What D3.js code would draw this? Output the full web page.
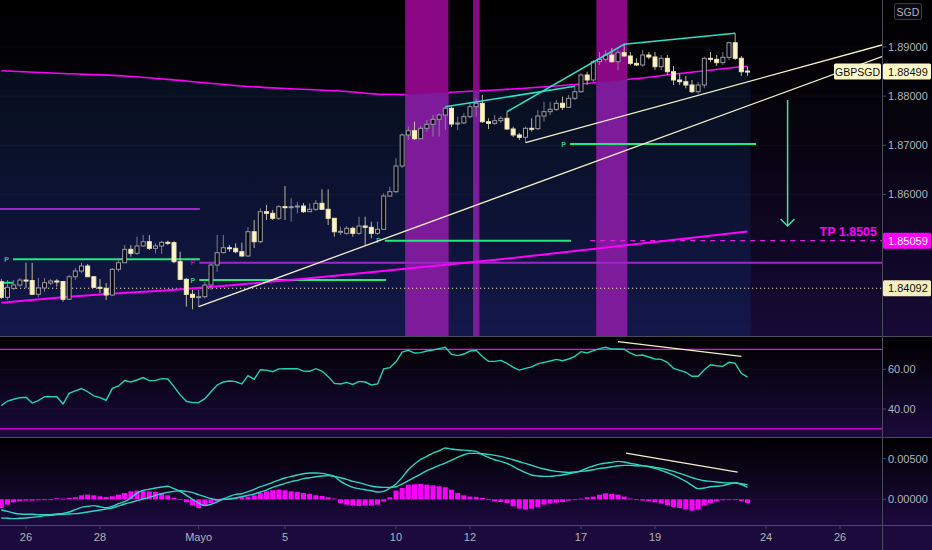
<!DOCTYPE html>
<html><head><meta charset="utf-8">
<script src="https://cdn.jsdelivr.net/npm/d3@7"></script>
<style>
html,body{margin:0;padding:0;background:#000;}
svg{display:block;}
text{font-family:"Liberation Sans",Arial,sans-serif;}
</style></head><body>
<svg id="c" width="932" height="550"></svg>
<script>
// ---------------- DATA ----------------
const opens=[1.84224,1.83907,1.84090,1.84157,1.84258,1.84248,1.83968,1.84097,1.84198,1.84239,
1.84228,1.83867,1.84326,1.84442,1.84544,1.84326,1.84111,1.84090,1.83954,1.84477,
1.84611,1.84884,1.84802,1.84951,1.85039,1.84904,1.84951,1.85026,1.85018,1.84632,
1.84273,1.83968,1.83907,1.83920,1.84157,1.84564,1.84815,1.84916,1.84904,1.84835,
1.84748,1.85242,1.85039,1.85649,1.85616,1.85515,1.85751,1.85739,1.85751,1.85765,
1.85649,1.85698,1.85820,1.85698,1.85515,1.85242,1.85209,1.85311,1.85209,1.85358,
1.85332,1.85209,1.85291,1.85968,1.86056,1.86579,1.87210,1.87297,1.87134,1.87346,
1.87427,1.87529,1.87616,1.87753,1.87433,1.87454,1.87582,1.87785,1.87855,1.87480,
1.87447,1.87500,1.87549,1.87332,1.87210,1.87163,1.87346,1.87338,1.87596,1.87684,
1.87732,1.87855,1.87773,1.87956,1.88091,1.88430,1.88329,1.88701,1.88750,1.88837,
1.88701,1.88884,1.88817,1.88668,1.88634,1.88837,1.88797,1.88599,1.88770,1.88497,
1.88329,1.88294,1.88227,1.88091,1.88227,1.88770,1.88750,1.88681,1.88790,1.89087,
1.88770,1.88510];
const highs=[1.84279,1.84258,1.84258,1.84299,1.84611,1.84605,1.84299,1.84299,1.84279,1.84279,
1.84239,1.84361,1.84503,1.84605,1.84584,1.84340,1.84279,1.84198,1.84503,1.84707,
1.84971,1.84971,1.85140,1.85175,1.85175,1.85006,1.85053,1.85059,1.85053,1.84835,
1.84299,1.84056,1.84056,1.84224,1.84598,1.85175,1.85175,1.84971,1.85006,1.85018,
1.85332,1.85480,1.85718,1.85785,1.85684,1.85785,1.86172,1.85922,1.85852,1.85826,
1.85820,1.85887,1.86105,1.86105,1.85521,1.85344,1.85358,1.85344,1.85547,1.85547,
1.85446,1.85446,1.86023,1.86158,1.86735,1.87244,1.87378,1.87480,1.87393,1.87515,
1.87616,1.87651,1.87785,1.87785,1.87582,1.87651,1.87855,1.87956,1.88023,1.87549,
1.87616,1.87596,1.87684,1.87378,1.87250,1.87378,1.87549,1.87718,1.87887,1.87887,
1.87922,1.87989,1.88023,1.88200,1.88465,1.88497,1.88735,1.88898,1.88939,1.88980,
1.88939,1.89055,1.88898,1.88770,1.88939,1.88898,1.88898,1.88837,1.88837,1.88613,
1.88465,1.88410,1.88329,1.88288,1.88803,1.88898,1.88837,1.88898,1.89101,1.89279,
1.88817,1.88599];
const lows=[1.83873,1.83852,1.84056,1.84117,1.84097,1.83954,1.83914,1.84021,1.84157,1.84123,
1.83818,1.83852,1.84258,1.84402,1.84320,1.84097,1.83995,1.83852,1.83934,1.84428,
1.84605,1.84733,1.84768,1.84937,1.84870,1.84802,1.84788,1.84971,1.84598,1.84258,
1.83716,1.83663,1.83716,1.83887,1.84056,1.84428,1.84802,1.84835,1.84802,1.84733,
1.84733,1.84910,1.85006,1.85480,1.85480,1.85480,1.85480,1.85446,1.85616,1.85623,
1.85643,1.85663,1.85684,1.85378,1.85140,1.85175,1.85175,1.85140,1.85175,1.84971,
1.85108,1.85175,1.85277,1.85948,1.86029,1.86538,1.87108,1.87108,1.87128,1.87277,
1.87175,1.87175,1.87311,1.87372,1.87311,1.87433,1.87549,1.87582,1.87454,1.87332,
1.87413,1.87454,1.87311,1.87169,1.87108,1.87053,1.87277,1.87311,1.87480,1.87616,
1.87698,1.87718,1.87759,1.87922,1.88064,1.88227,1.88288,1.88634,1.88695,1.88681,
1.88532,1.88797,1.88634,1.88613,1.88599,1.88750,1.88532,1.88532,1.88430,1.88227,
1.88227,1.88160,1.88064,1.88044,1.88160,1.88695,1.88613,1.88634,1.88735,1.88735,
1.88410,1.88410];
const closes=[1.83907,1.84111,1.84157,1.84258,1.84248,1.83968,1.84097,1.84204,1.84239,1.84228,
1.83867,1.84326,1.84442,1.84544,1.84326,1.84111,1.84090,1.83954,1.84477,1.84611,
1.84884,1.84802,1.84951,1.85039,1.84904,1.84951,1.85026,1.85018,1.84632,1.84273,
1.83968,1.83907,1.83920,1.84157,1.84564,1.84815,1.84916,1.84904,1.84835,1.84748,
1.85242,1.85039,1.85649,1.85616,1.85515,1.85751,1.85739,1.85751,1.85765,1.85649,
1.85698,1.85820,1.85698,1.85515,1.85242,1.85250,1.85311,1.85209,1.85358,1.85332,
1.85209,1.85291,1.85968,1.86056,1.86579,1.87210,1.87297,1.87134,1.87346,1.87427,
1.87529,1.87616,1.87753,1.87433,1.87454,1.87582,1.87785,1.87855,1.87480,1.87447,
1.87500,1.87549,1.87332,1.87210,1.87163,1.87346,1.87338,1.87596,1.87684,1.87732,
1.87855,1.87773,1.87956,1.88091,1.88430,1.88329,1.88701,1.88750,1.88837,1.88701,
1.88884,1.88817,1.88668,1.88634,1.88837,1.88797,1.88599,1.88770,1.88497,1.88329,
1.88294,1.88227,1.88091,1.88227,1.88770,1.88750,1.88681,1.88790,1.89087,1.88770,
1.88497,1.88499];

const rsi=[41.7,44.0,44.9,45.7,45.9,43.0,44.2,46.2,46.2,46.2,
42.5,47.9,49.1,50.3,48.7,46.6,45.7,44.4,50.4,51.6,
54.3,53.6,54.6,55.8,54.3,54.4,55.3,55.1,51.3,47.1,
43.9,43.2,43.2,45.2,48.7,52.1,53.6,54.1,53.8,52.6,
56.8,55.0,59.8,59.6,58.8,60.2,60.3,60.3,60.3,59.1,
59.0,60.3,59.1,56.3,52.9,52.6,53.4,52.4,53.9,53.6,
52.1,52.6,60.2,60.8,63.8,68.7,69.6,68.2,68.4,69.2,
69.7,70.4,71.1,67.5,66.9,67.7,69.2,69.6,66.4,64.0,
64.0,64.5,63.0,61.0,59.6,60.5,61.2,62.7,63.5,64.2,
65.0,64.3,65.2,66.5,68.9,68.2,69.4,70.4,71.1,70.2,
70.2,70.1,68.2,66.9,67.2,66.2,65.2,65.0,63.5,60.5,
59.5,58.5,56.5,56.5,59.8,62.3,61.8,61.5,63.5,63.0,
58.0,56.1];
const rsiLevels=[70,30];

const macd=[-0.00132,-0.00148,-0.00168,-0.00181,-0.00185,-0.00185,-0.00189,-0.00189,-0.00189,-0.00181,
-0.00173,-0.00156,-0.00127,-0.00099,-0.00087,-0.00078,-0.00091,-0.00103,-0.00087,-0.00054,
-0.00029,0.00016,0.00077,0.00110,0.00123,0.00139,0.00151,0.00160,0.00131,0.00098,
0.00049,0.0,-0.00046,-0.00078,-0.00062,-0.00033,0.00004,0.00036,0.00061,0.00069,
0.00094,0.00123,0.00155,0.00180,0.00209,0.00237,0.00262,0.00282,0.00299,0.00315,
0.00323,0.00323,0.00319,0.00303,0.00282,0.00221,0.00180,0.00147,0.00131,0.00118,
0.00106,0.00090,0.00098,0.00139,0.00188,0.00270,0.00364,0.00434,0.00492,0.00528,
0.00569,0.00598,0.00631,0.00619,0.00610,0.00606,0.00598,0.00590,0.00549,0.00516,
0.00487,0.00467,0.00442,0.00405,0.00364,0.00328,0.00299,0.00287,0.00282,0.00282,
0.00291,0.00299,0.00315,0.00328,0.00352,0.00385,0.00410,0.00434,0.00446,0.00455,
0.00467,0.00459,0.00442,0.00430,0.00414,0.00401,0.00381,0.00356,0.00328,0.00299,
0.00262,0.00221,0.00172,0.00131,0.00139,0.00155,0.00160,0.00168,0.00188,0.00205,
0.00180,0.00147];
const signal=[-0.00230,-0.00234,-0.00238,-0.00234,-0.00230,-0.00222,-0.00214,-0.00201,-0.00197,-0.00189,
-0.00185,-0.00181,-0.00177,-0.00168,-0.00156,-0.00144,-0.00132,-0.00119,-0.00107,-0.00082,
-0.00058,-0.00037,-0.00017,0.00004,0.00024,0.00049,0.00069,0.00086,0.00098,0.00106,
0.00098,0.00082,0.00057,0.00032,0.00008,-0.00005,0.0,0.00004,0.00016,0.00032,
0.00049,0.00065,0.00090,0.00114,0.00147,0.00172,0.00196,0.00217,0.00233,0.00254,
0.00266,0.00278,0.00287,0.00291,0.00282,0.00266,0.00246,0.00221,0.00205,0.00184,
0.00164,0.00151,0.00147,0.00147,0.00155,0.00188,0.00229,0.00270,0.00311,0.00352,
0.00385,0.00418,0.00446,0.00483,0.00516,0.00549,0.00565,0.00565,0.00561,0.00553,
0.00541,0.00528,0.00508,0.00487,0.00463,0.00442,0.00418,0.00393,0.00373,0.00356,
0.00344,0.00336,0.00332,0.00336,0.00344,0.00352,0.00364,0.00381,0.00389,0.00401,
0.00414,0.00418,0.00418,0.00414,0.00414,0.00405,0.00393,0.00381,0.00364,0.00344,
0.00319,0.00295,0.00266,0.00246,0.00229,0.00221,0.00213,0.00205,0.00201,0.00201,
0.00192,0.00180];
const hist=[-0.00107,-0.00066,-0.00037,-0.00025,-0.00016,-0.00016,-0.00012,-0.00008,0.0,0.00012,
0.00008,0.00016,0.00025,0.00049,0.00057,0.00049,0.00037,0.00029,0.00037,0.00057,
0.00078,0.00098,0.00107,0.00107,0.00098,0.00090,0.00078,0.00049,0.00016,-0.00008,
-0.00037,-0.00074,-0.00107,-0.00082,-0.00049,-0.00025,-0.00004,0.00008,0.00016,0.00025,
0.00033,0.00049,0.00078,0.00098,0.00111,0.00119,0.00111,0.00098,0.00090,0.00078,
0.00066,0.00049,0.00041,0.00025,0.00008,-0.00045,-0.00066,-0.00078,-0.00082,-0.00078,
-0.00078,-0.00066,-0.00025,0.00025,0.00107,0.00139,0.00180,0.00185,0.00189,0.00180,
0.00172,0.00160,0.00148,0.00119,0.00078,0.00049,0.00033,0.00029,0.00016,-0.00008,
-0.00025,-0.00033,-0.00045,-0.00086,-0.00115,-0.00127,-0.00115,-0.00094,-0.00066,-0.00049,
-0.00041,-0.00033,-0.00016,-0.00008,0.00008,0.00025,0.00033,0.00057,0.00074,0.00066,
0.00057,0.00033,0.00008,-0.00008,-0.00016,-0.00025,-0.00037,-0.00053,-0.00074,-0.00094,
-0.00107,-0.00123,-0.00139,-0.00127,-0.00078,-0.00045,-0.00025,-0.00012,-0.00004,-0.00008,
-0.00021,-0.00045];

// slow moving average (upper magenta curve), sampled at bar indices
const maSlowIdx=[0,10,20,30,40,48,56,62,66,72,80,90,100,110,121];
const maSlowVal=[1.88518,1.88461,1.88410,1.88308,1.88196,1.88145,1.88095,1.88038,1.88034,1.88074,1.88125,1.88207,1.88318,1.88461,1.88613];
// lower magenta average
const maLowIdx=[0,17,26,52,65,81,97,121];
const maLowVal=[1.83798,1.83975,1.84042,1.84320,1.84483,1.84681,1.84904,1.85246];

// highlighted session bands [firstBar,lastBar]
const bands=[[66,72],[77,77],[97,101]];

// pivot / level lines: [fromBar, toBar, price]
const greenLevels=[[-0.22,1.9,1.84204],[1.9,32.2,1.84681],[32.1,62.4,1.84258],[62.2,92.4,1.85059],[92.2,122.4,1.87026]];
const purpleLevels=[[-0.22,32.2,1.85704],[32.1,143,1.84611]];
const pLabelsGreen=[[1.9,1.84681],[32.1,1.84258],[62.2,1.85059],[92.2,1.87026]];
const pLabelsPurple=[[32.1,1.84611]];
const dottedLevel=1.84092;
const tpLevel=1.85059, tpFrom=95.5, tpText="TP 1.8505";
const lastPrice=1.88499, symbol="GBPSGD", currency="SGD";

// drawings: [bar, price]
const trendA=[[32,1.83716],[142.8,1.88803]];
const trendB=[[85,1.87053],[142.8,1.89041]];
const cyan1=[[72,1.87785],[93,1.88200]];
const cyan2=[[82,1.87684],[101,1.89055],[119,1.89279]];
const arrow=[[127.5,1.87922],[127.5,1.85358]];
const rsiTrend=[[100,73.9],[120,66.5]];
const macdTrend=[[101.3,0.00570],[119.4,0.00336]];

const priceTicks=[1.86,1.87,1.88,1.89];
const rsiTicks=[40,60];
const macdTicks=[0,0.005];
const dayTickIdx=[4,16,32,46,64,76,94,106,124,136];
const dayTickLabels=["26","28","Mayo","5","10","12","17","19","24","26"];

// ---------------- LAYOUT ----------------
const W=932,H=550, AX=882;
const MAIN=[0,336], RSIP=[337,437], MACDP=[438,525];
const svg=d3.select('#c');
const defs=svg.append('defs');
function vgrad(id,stops,y1,y2){
  const g=defs.append('linearGradient').attr('id',id).attr('gradientUnits','userSpaceOnUse')
   .attr('x1',0).attr('x2',0).attr('y1',y1).attr('y2',y2);
  stops.forEach(s=>g.append('stop').attr('offset',s[0]).attr('stop-color',s[1]));
}
vgrad('gMain',[[0,'#000000'],[0.35,'#05030c'],[1,'#170a36']],0,336);
vgrad('gNavy',[[0,'#050e1a'],[1,'#13174a']],60,336);
vgrad('gRsi',[[0,'#000000'],[1,'#1a0a3c']],337,437);
vgrad('gMacd',[[0,'#000000'],[1,'#1b0a3e']],438,525);
function clip(id,y0,y1){defs.append('clipPath').attr('id',id).append('rect').attr('x',0).attr('y',y0).attr('width',AX).attr('height',y1-y0);}
clip('cMain',MAIN[0],MAIN[1]); clip('cRsi',RSIP[0],RSIP[1]); clip('cMacd',MACDP[0],MACDP[1]);

const x=d3.scaleLinear().domain([0,142]).range([1.33,1.33+142*6.1667]);
const yP=d3.scaleLinear().domain([1.84,1.89]).range([292.75,47]);
const yR=d3.scaleLinear().domain([40,60]).range([409,369.3]);
const yM=d3.scaleLinear().domain([0,0.005]).range([499.3,458.7]);
const step=x(1)-x(0);

// backgrounds
svg.append('rect').attr('x',0).attr('y',0).attr('width',W).attr('height',336).attr('fill','url(#gMain)');
svg.append('rect').attr('x',0).attr('y',337).attr('width',W).attr('height',100).attr('fill','url(#gRsi)');
svg.append('rect').attr('x',0).attr('y',438).attr('width',W).attr('height',87).attr('fill','url(#gMacd)');
svg.append('rect').attr('x',0).attr('y',525).attr('width',W).attr('height',25).attr('fill','#1b0b3c');

// ---------------- MAIN PANE ----------------
const gm=svg.append('g').attr('clip-path','url(#cMain)');
const maPts=maSlowIdx.map((d,k)=>[x(d),yP(maSlowVal[k])]);
const lastX=x(closes.length-1)+step/2;
const areaPts=[[0,maPts[0][1]],...maPts,[lastX,maPts[maPts.length-1][1]]];
const areaD=d3.area().x(d=>d[0]).y0(MAIN[1]).y1(d=>d[1]).curve(d3.curveMonotoneX)(areaPts);
defs.append('clipPath').attr('id','cUnder').append('path').attr('d',areaD);
gm.append('path').attr('d',areaD).attr('fill','url(#gNavy)');
// grid
gm.selectAll('.gp').data(priceTicks).join('line').attr('x1',0).attr('x2',AX)
  .attr('y1',d=>yP(d)).attr('y2',d=>yP(d)).attr('stroke','rgba(255,255,255,0.035)');
// slow MA line
const lineM=d3.line().curve(d3.curveMonotoneX);
gm.append('path').attr('d',lineM(maPts)).attr('fill','none').attr('stroke','#ff00ff').attr('stroke-width',1.6);
// bands (two-tone: above / below the slow average)
const bx=d=>x(d[0])-step/2, bw=d=>x(d[1])-x(d[0])+step;
gm.selectAll('.band').data(bands).join('rect')
  .attr('x',bx).attr('width',bw).attr('y',MAIN[0]).attr('height',MAIN[1]-MAIN[0]).attr('fill','#8a0786');
gm.append('g').attr('clip-path','url(#cUnder)').selectAll('.band2').data(bands).join('rect')
  .attr('x',bx).attr('width',bw).attr('y',MAIN[0]).attr('height',MAIN[1]-MAIN[0]).attr('fill','#7e1b9a');
// level lines
gm.selectAll('.pl').data(purpleLevels).join('line')
  .attr('x1',d=>x(d[0])).attr('x2',d=>x(d[1])).attr('y1',d=>yP(d[2])).attr('y2',d=>yP(d[2]))
  .attr('stroke','#9c27c8').attr('stroke-width',2);
gm.selectAll('.gl').data(greenLevels).join('line')
  .attr('x1',d=>x(d[0])).attr('x2',d=>x(d[1])).attr('y1',d=>yP(d[2])).attr('y2',d=>yP(d[2]))
  .attr('stroke','#22e87c').attr('stroke-width',2);
gm.selectAll('.pg').data(pLabelsGreen).join('text').attr('x',d=>x(d[0])-4).attr('y',d=>yP(d[1])+2.5)
  .attr('text-anchor','end').attr('font-size',7).attr('font-weight','bold').attr('fill','#1fc98a').text('P');
gm.selectAll('.pp').data(pLabelsPurple).join('text').attr('x',d=>x(d[0])-4).attr('y',d=>yP(d[1])+2.5)
  .attr('text-anchor','end').attr('font-size',7).attr('font-weight','bold').attr('fill','#8e24aa').text('P');
// dotted level
gm.append('line').attr('x1',0).attr('x2',AX).attr('y1',yP(dottedLevel)).attr('y2',yP(dottedLevel))
  .attr('stroke','#e8e2b8').attr('stroke-dasharray','1.2,2.8').attr('stroke-width',1.1);
// TP dashed
gm.append('line').attr('x1',x(tpFrom)).attr('x2',AX).attr('y1',yP(tpLevel)).attr('y2',yP(tpLevel))
  .attr('stroke','#e020e0').attr('stroke-dasharray','5,5').attr('stroke-width',1.3);
// lower MA
gm.append('path').attr('d',lineM(maLowIdx.map((d,k)=>[x(d),yP(maLowVal[k])]))).attr('fill','none')
  .attr('stroke','#ff00ff').attr('stroke-width',2);
// candles
const idx=d3.range(closes.length);
const up=i=>closes[i]>=opens[i];
gm.selectAll('.wick').data(idx).join('line')
  .attr('x1',i=>x(i)).attr('x2',i=>x(i)).attr('y1',i=>yP(highs[i])).attr('y2',i=>yP(lows[i]))
  .attr('stroke',i=>up(i)?'#8e8e9c':'#d8d2a8').attr('stroke-opacity',0.85).attr('stroke-width',1);
gm.selectAll('.body').data(idx).join('rect')
  .attr('x',i=>x(i)-2).attr('width',4)
  .attr('y',i=>yP(Math.max(opens[i],closes[i])))
  .attr('height',i=>Math.max(1,Math.abs(yP(opens[i])-yP(closes[i]))))
  .attr('fill',i=>up(i)?'#07070f':'#fff5c4')
  .attr('stroke',i=>up(i)?'#9a9aa6':'#efe6b6').attr('stroke-width',1);
// trendlines
const lp=d=>[x(d[0]),yP(d[1])];
[trendA,trendB].forEach(t=>gm.append('path').attr('d',d3.line()(t.map(lp))).attr('fill','none')
  .attr('stroke','#f3edc8').attr('stroke-width',1.3));
[cyan1,cyan2].forEach(t=>gm.append('path').attr('d',d3.line()(t.map(lp))).attr('fill','none')
  .attr('stroke','#2fe0c6').attr('stroke-width',1.6));
// arrow
const a0=lp(arrow[0]), a1=lp(arrow[1]);
gm.append('line').attr('x1',a0[0]).attr('x2',a1[0]).attr('y1',a0[1]).attr('y2',a1[1])
  .attr('stroke','#38e6a4').attr('stroke-width',1.5);
gm.append('path').attr('d',`M${a1[0]-7},${a1[1]-7}L${a1[0]},${a1[1]}L${a1[0]+7},${a1[1]-7}`)
  .attr('fill','none').attr('stroke','#38e6a4').attr('stroke-width',1.5);
// TP text
svg.append('text').attr('x',AX-5).attr('y',yP(tpLevel)-5).attr('text-anchor','end')
  .attr('font-size',12.5).attr('font-weight','bold').attr('fill','#ff00ff').text(tpText);

// ---------------- RSI PANE ----------------
const gr=svg.append('g').attr('clip-path','url(#cRsi)');
gr.selectAll('.gr').data(rsiTicks).join('line').attr('x1',0).attr('x2',AX)
  .attr('y1',d=>yR(d)).attr('y2',d=>yR(d)).attr('stroke','rgba(255,255,255,0.04)');
gr.selectAll('.rl').data(rsiLevels).join('line').attr('x1',0).attr('x2',AX)
  .attr('y1',d=>yR(d)).attr('y2',d=>yR(d)).attr('stroke','#ff00ff').attr('stroke-width',1.3);
gr.append('path').attr('d',d3.line().x((d,i)=>x(i)).y(d=>yR(d))(rsi)).attr('fill','none')
  .attr('stroke','#1fd6b4').attr('stroke-width',1.4);
gr.append('path').attr('d',d3.line()(rsiTrend.map(d=>[x(d[0]),yR(d[1])]))).attr('fill','none')
  .attr('stroke','#f3edc8').attr('stroke-width',1.3);

// ---------------- MACD PANE ----------------
const gc=svg.append('g').attr('clip-path','url(#cMacd)');
gc.append('line').attr('x1',0).attr('x2',AX).attr('y1',yM(0)).attr('y2',yM(0)).attr('stroke','rgba(255,255,255,0.05)');
gc.selectAll('.hb').data(idx).join('rect')
  .attr('x',i=>x(i)-2.5).attr('width',5)
  .attr('y',i=>Math.min(yM(0),yM(hist[i]))).attr('height',i=>Math.max(0.8,Math.abs(yM(hist[i])-yM(0))))
  .attr('fill','#ff00ff');
[signal,macd].forEach(s=>gc.append('path').attr('d',d3.line().x((d,i)=>x(i)).y(d=>yM(d)).curve(d3.curveMonotoneX)(s))
  .attr('fill','none').attr('stroke','#2ad8c2').attr('stroke-width',1.4));
gc.append('path').attr('d',d3.line()(macdTrend.map(d=>[x(d[0]),yM(d[1])]))).attr('fill','none')
  .attr('stroke','#f3edc8').attr('stroke-width',1.3);

// ---------------- AXES / FRAME ----------------
const frame='#4a4a5a';
svg.append('line').attr('x1',0).attr('x2',W).attr('y1',336.5).attr('y2',336.5).attr('stroke',frame);
svg.append('line').attr('x1',0).attr('x2',W).attr('y1',437.5).attr('y2',437.5).attr('stroke',frame);
svg.append('line').attr('x1',0).attr('x2',W).attr('y1',525.5).attr('y2',525.5).attr('stroke',frame);
svg.append('line').attr('x1',AX+0.5).attr('x2',AX+0.5).attr('y1',0).attr('y2',H).attr('stroke',frame);
const axCol='#b0b3bc';
function yTicks(vals,sc,fmt){
  vals.forEach(v=>{
    svg.append('line').attr('x1',AX).attr('x2',AX+4).attr('y1',sc(v)).attr('y2',sc(v)).attr('stroke',frame);
    svg.append('text').attr('x',AX+6).attr('y',sc(v)+4).attr('font-size',11).attr('fill',axCol).text(fmt(v));
  });
}
yTicks(priceTicks,yP,d3.format('.5f'));
yTicks(rsiTicks,yR,d3.format('.2f'));
yTicks(macdTicks,yM,d3.format('.5f'));
dayTickIdx.forEach((d,k)=>{
  svg.append('line').attr('x1',x(d)).attr('x2',x(d)).attr('y1',525.5).attr('y2',529).attr('stroke',frame);
  svg.append('text').attr('x',x(d)).attr('y',541).attr('text-anchor','middle').attr('font-size',11)
    .attr('fill',axCol).text(dayTickLabels[k]);
});
// currency box
svg.append('rect').attr('x',894.5).attr('y',3.5).attr('width',27).attr('height',16).attr('rx',2)
  .attr('fill','#0a0a12').attr('stroke','#3a3a48');
svg.append('text').attr('x',908).attr('y',15.5).attr('text-anchor','middle').attr('font-size',10.5).attr('fill',axCol).text(currency);
// price labels
function plabel(v,bg,fg){
  const yy=yP(v);
  svg.append('rect').attr('x',AX+1).attr('y',yy-8).attr('width',W-AX-2).attr('height',16).attr('rx',1.5).attr('fill',bg);
  svg.append('text').attr('x',AX+6).attr('y',yy+4).attr('font-size',11).attr('fill',fg).text(d3.format('.5f')(v));
}
plabel(tpLevel,'#ff00ff','#ffffff');
plabel(dottedLevel,'#f3edc0','#111111');
plabel(lastPrice,'#fff8c8','#111111');
svg.append('rect').attr('x',AX-48).attr('y',yP(lastPrice)-8).attr('width',47).attr('height',16).attr('rx',1.5).attr('fill','#fff8c8');
svg.append('text').attr('x',AX-24.5).attr('y',yP(lastPrice)+4).attr('text-anchor','middle').attr('font-size',10.5).attr('fill','#111').text(symbol);
</script>
</body></html>
